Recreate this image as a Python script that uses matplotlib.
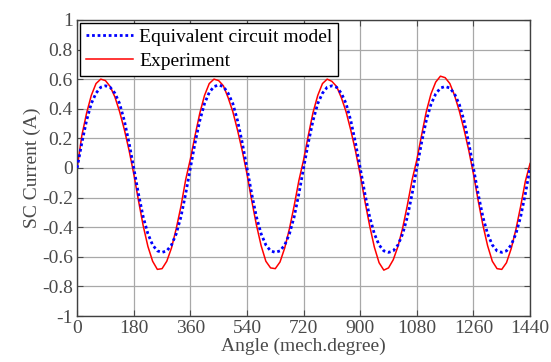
import matplotlib
matplotlib.use("Agg")
import matplotlib.pyplot as plt
import numpy as np

plt.rcParams['font.family'] = ['Liberation Serif', 'DejaVu Serif']

# angle samples every 15 mech. degrees (0..1440)
angle = list(range(0, 1441, 15))

model = [
    0.00, 0.17, 0.32, 0.435, 0.505, 0.545, 0.555, 0.545, 0.505, 0.435, 0.32, 0.17,
    0.00, -0.175, -0.33, -0.445, -0.52, -0.56, -0.57, -0.56, -0.52, -0.445, -0.33, -0.175,
    0.00, 0.17, 0.32, 0.435, 0.51, 0.55, 0.56, 0.55, 0.505, 0.435, 0.32, 0.17,
    0.00, -0.175, -0.33, -0.445, -0.52, -0.56, -0.57, -0.56, -0.52, -0.445, -0.33, -0.175,
    0.00, 0.17, 0.32, 0.435, 0.505, 0.545, 0.555, 0.545, 0.505, 0.435, 0.32, 0.17,
    0.00, -0.175, -0.33, -0.445, -0.52, -0.56, -0.57, -0.56, -0.52, -0.445, -0.33, -0.175,
    0.00, 0.17, 0.32, 0.43, 0.50, 0.54, 0.55, 0.54, 0.50, 0.43, 0.32, 0.17,
    0.00, -0.175, -0.33, -0.445, -0.52, -0.56, -0.57, -0.56, -0.52, -0.445, -0.33, -0.175,
    0.00,
]

experiment = [
    0.00, 0.22, 0.37, 0.49, 0.57, 0.60, 0.59, 0.55, 0.48, 0.38, 0.26, 0.12,
    -0.04, -0.22, -0.39, -0.53, -0.63, -0.685, -0.68, -0.63, -0.54, -0.41, -0.26, -0.08,
    0.06, 0.22, 0.37, 0.49, 0.57, 0.60, 0.59, 0.555, 0.475, 0.38, 0.255, 0.115,
    -0.04, -0.22, -0.385, -0.525, -0.63, -0.675, -0.68, -0.635, -0.54, -0.41, -0.255, -0.085,
    0.055, 0.22, 0.375, 0.49, 0.57, 0.60, 0.585, 0.55, 0.475, 0.38, 0.255, 0.115,
    -0.045, -0.225, -0.39, -0.535, -0.64, -0.69, -0.675, -0.62, -0.53, -0.405, -0.25, -0.08,
    0.055, 0.22, 0.38, 0.50, 0.58, 0.62, 0.61, 0.57, 0.49, 0.385, 0.26, 0.12,
    -0.04, -0.22, -0.385, -0.525, -0.63, -0.68, -0.685, -0.64, -0.545, -0.415, -0.26, -0.09,
    0.03,
]

xticks = list(range(0, 1441, 180))
yticks = [-1, -0.8, -0.6, -0.4, -0.2, 0, 0.2, 0.4, 0.6, 0.8, 1]
ytick_labels = ['-1', '-0.8', '-0.6', '-0.4', '-0.2', '0', '0.2', '0.4', '0.6', '0.8', '1']

fig = plt.figure(figsize=(5.51, 3.62), dpi=100)
ax = fig.add_axes([0.140, 0.127, 0.822, 0.818])

ax.plot(angle, model, color='#0000ff', linestyle=(0, (1, 1)), linewidth=2,
        label='Equivalent circuit model', zorder=3)
ax.plot(angle, experiment, color='#ff0000', linewidth=1.1,
        label='Experiment', zorder=2)

ax.set_xlim(0, 1440)
ax.set_ylim(-1, 1)
ax.set_xticks(xticks)
ax.set_yticks(yticks)
ax.set_yticklabels(ytick_labels)
ax.grid(True, color='#a8a8a8', linewidth=0.9, linestyle='-')
ax.set_axisbelow(True)
ax.tick_params(direction='in', top=True, right=True, length=4, width=0.8,
               colors='#4a4a4a', labelsize=14, pad=3)
for s in ax.spines.values():
    s.set_color('#404040')
    s.set_linewidth(1.0)

ax.set_xlabel('Angle (mech.degree)', fontsize=14, color='#4a4a4a', labelpad=0)
ax.set_ylabel('SC Current (A)', fontsize=14, color='#4a4a4a', labelpad=1)

leg = ax.legend(loc='upper left', fontsize=14, frameon=True, fancybox=False,
                edgecolor='black', borderaxespad=0.15, handlelength=2.4,
                borderpad=0.3, labelspacing=0.3, handletextpad=0.35)
leg.get_frame().set_linewidth(1.0)
leg.get_frame().set_alpha(1.0)

fig.savefig('out.png', dpi=100)
